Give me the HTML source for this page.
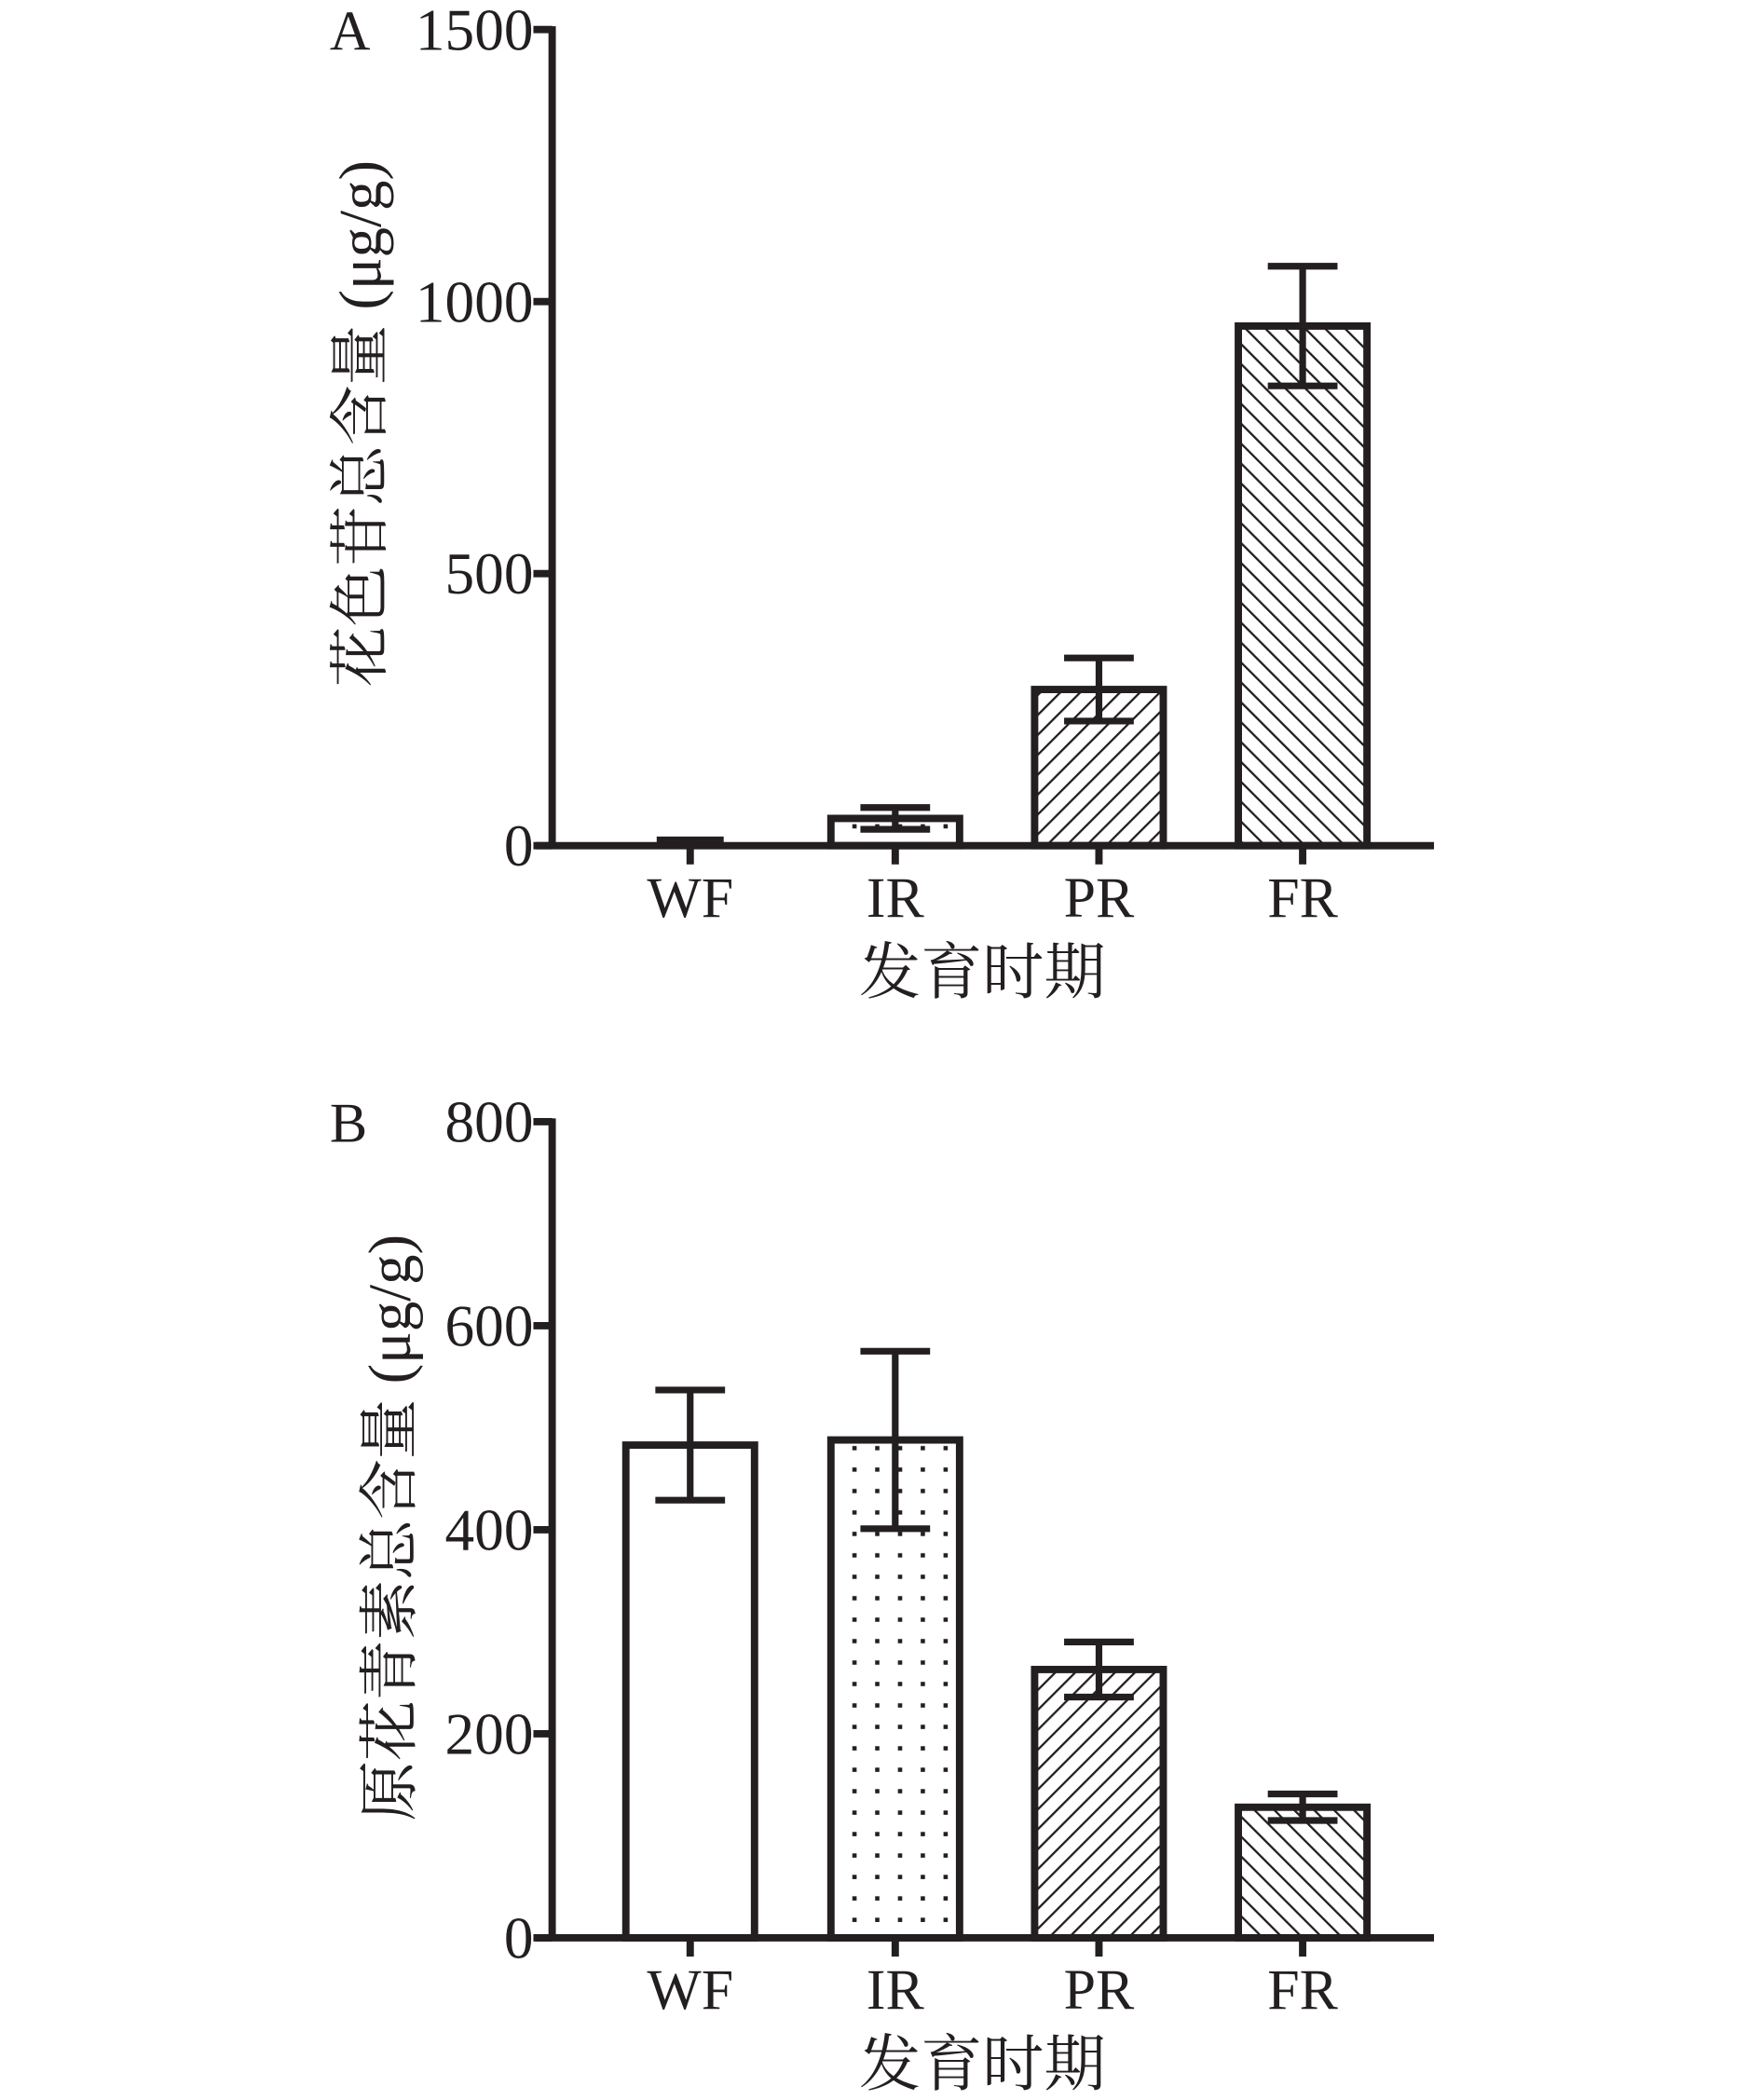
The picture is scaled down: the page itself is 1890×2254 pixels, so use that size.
<!DOCTYPE html>
<html><head><meta charset="utf-8"><style>
html,body{margin:0;padding:0;background:#fff;}
svg{display:block;}
text{font-family:"Liberation Serif","Noto Serif CJK SC",serif;fill:#231f20;}
</style></head><body>
<svg id="chart" width="1890" height="2254" viewBox="0 0 1314 1567" xmlns="http://www.w3.org/2000/svg">
<defs>
<pattern id="dots" width="17" height="16" patternUnits="userSpaceOnUse"><rect x="7" y="7" width="3.2" height="3.2" fill="#231f20"/></pattern>
<pattern id="fwd" width="10.5" height="10.5" patternUnits="userSpaceOnUse" patternTransform="rotate(45)"><line x1="0" y1="0" x2="0" y2="10.5" stroke="#231f20" stroke-width="3.2"/></pattern>
<pattern id="back" width="10.5" height="10.5" patternUnits="userSpaceOnUse" patternTransform="rotate(-45)"><line x1="0" y1="0" x2="0" y2="10.5" stroke="#231f20" stroke-width="3.2"/></pattern>
</defs>
<g id="panelA"></g>
<g id="panelB"></g>
</svg>
<script>
const categories = ["WF","IR","PR","FR"];
const fills = ["#fff","url(#dots)","url(#fwd)","url(#back)"];
const valuesA = [5, 50, 287, 955];
const errA = [0, 20, 58, 110];
const ticksA = [0, 500, 1000, 1500];
const valuesB = [483, 488, 263, 128];
const errB = [54, 87, 27, 13];
const ticksB = [0, 200, 400, 600, 800];
const NS = "http://www.w3.org/2000/svg";
function mk(parent, tag, attrs, txt){
  const e = document.createElementNS(NS, tag);
  for (const k in attrs) e.setAttribute(k, attrs[k]);
  if (txt !== undefined) e.textContent = txt;
  parent.appendChild(e);
  return e;
}
function panel(g, cfg){
  const {vals, errs, ticks, max, y0, y1, letter, ytitle, ytx, yty, letterY, tinyFirst} = cfg;
  const axX = 412, xEnd = 1070;
  const centers = [515, 668, 820, 972];
  const bw = 96;
  const yS = v => y0 - (v / max) * (y0 - y1);
  let e;
  e = mk(g, "line", {x1: axX, y1: y1 - 2.5, x2: axX, y2: y0 + 2.5, stroke: "#231f20", "stroke-width": 5.5});
  
  
  e = mk(g, "line", {x1: 400, y1: y0, x2: xEnd, y2: y0, stroke: "#231f20", "stroke-width": 5.5});
  
  
  ticks.forEach(t => {
    const y = yS(t);
    e = mk(g, "line", {x1: 398, y1: y, x2: axX, y2: y, stroke: "#231f20", "stroke-width": 5.5});
    
    
    e = mk(g, "text", {x: 398, y: y + 15, "text-anchor": "end", "font-size": 44}, String(t));
    
    
  });
  categories.forEach((c, i) => {
    const cx = centers[i];
    const v = vals[i];
    const top = yS(v);
    if (tinyFirst && i === 0) {
      e = mk(g, "line", {x1: cx - 25, y1: top - 2, x2: cx + 25, y2: top - 2, stroke: "#231f20", "stroke-width": 5.5});
      
      
    } else {
      e = mk(g, "rect", {x: cx - bw/2, y: top, width: bw, height: y0 - top, fill: fills[i], stroke: "#231f20", "stroke-width": 5.5});
      
      
    }
    if (errs[i] > 0) {
      const yt = yS(v + errs[i]), yb = yS(v - errs[i]);
      e = mk(g, "path", {d: `M${cx},${yt}V${yb}M${cx-26},${yt}H${cx+26}M${cx-26},${yb}H${cx+26}`, stroke: "#231f20", "stroke-width": 5, fill: "none"});
      
      
    }
    e = mk(g, "line", {x1: cx, y1: y0, x2: cx, y2: y0 + 14, stroke: "#231f20", "stroke-width": 5.5});
    
    
    e = mk(g, "text", {x: cx, y: y0 + 53, "text-anchor": "middle", "font-size": 43}, c);
    
    
  });
  e = mk(g, "text", {x: 733, y: y0 + 110, "text-anchor": "middle", "font-size": 46}, "发育时期");
  
  
  e = mk(g, "text", {x: ytx, y: yty, "text-anchor": "middle", "font-size": 45, transform: `rotate(-90 ${ytx} ${yty})`}, ytitle);
  
  
  e = mk(g, "text", {x: 246, y: letterY, "font-size": 42}, letter);
  
  
}
panel(document.getElementById("panelA"), {vals: valuesA, errs: errA, ticks: ticksA, max: 1500, y0: 631, y1: 22, letter: "A", ytitle: "花色苷总含量 (μg/g)", ytx: 284, yty: 316, letterY: 37, tinyFirst: true});
panel(document.getElementById("panelB"), {vals: valuesB, errs: errB, ticks: ticksB, max: 800, y0: 1446, y1: 837, letter: "B", ytitle: "原花青素总含量 (μg/g)", ytx: 306, yty: 1140, letterY: 852, tinyFirst: false});
</script>
</body></html>
